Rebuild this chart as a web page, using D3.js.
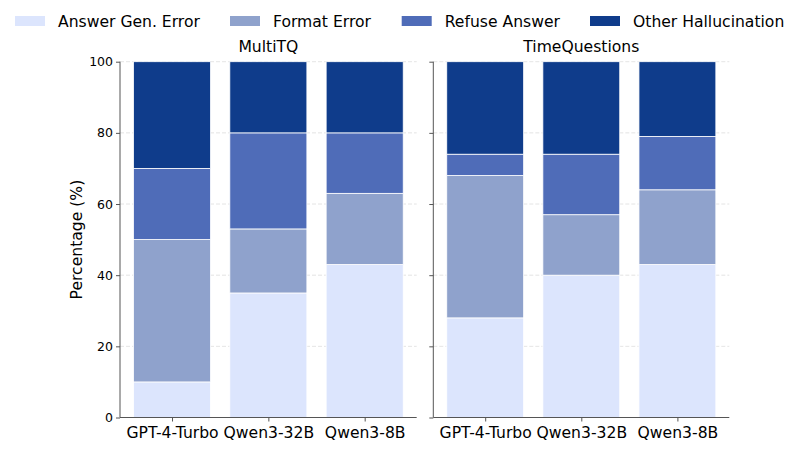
<!DOCTYPE html>
<html><head><meta charset="utf-8">
<script src="https://cdn.jsdelivr.net/npm/d3@7"></script>
<style>body{margin:0;background:#fff}svg{display:block;font-family:"DejaVu Sans",sans-serif}</style>
</head><body><svg id="c" width="798" height="450"></svg>
<script>
const models = ["GPT-4-Turbo", "Qwen3-32B", "Qwen3-8B"];
const panels = ["MultiTQ", "TimeQuestions"];
const seriesNames = ["Answer Gen. Error", "Format Error", "Refuse Answer", "Other Hallucination"];
const colors = ["#dce5fd", "#8fa2cc", "#4f6cb8", "#0f3c8b"];
// values per panel, per series, per model
const multiTQ = {
  "Answer Gen. Error": [10, 35, 43],
  "Format Error": [40, 18, 20],
  "Refuse Answer": [20, 27, 17],
  "Other Hallucination": [30, 20, 20]
};
const timeQuestions = {
  "Answer Gen. Error": [28, 40, 43],
  "Format Error": [40, 17, 21],
  "Refuse Answer": [6, 17, 15],
  "Other Hallucination": [26, 26, 21]
};
const yTicks = [0, 20, 40, 60, 80, 100];
const panelData = [multiTQ, timeQuestions];

const svg = d3.select("#c");
const y = d3.scaleLinear().domain([0, 100]).range([417.5, 61.7]);
const panelX = [[120, 416.7], [433.3, 729.3]];
const axisColor = "#555";
const FS = 15.6;

panelData.forEach((pd, pi) => {
  const [x0, x1] = panelX[pi];
  const x = d3.scaleLinear().domain([-0.54, 2.54]).range([x0, x1]);
  const g = svg.append("g");
  g.selectAll("line.grid").data(yTicks.filter(d => d > 0)).join("line")
    .attr("x1", x0).attr("x2", x1).attr("y1", d => y(d)).attr("y2", d => y(d))
    .attr("stroke", "#dddddd").attr("stroke-width", 0.8).attr("stroke-dasharray", "4,2");
  const rows = models.map((m, i) => {
    const r = {model: m, idx: i};
    seriesNames.forEach(s => r[s] = pd[s][i]);
    return r;
  });
  const stack = d3.stack().keys(seriesNames)(rows);
  stack.forEach((layer, si) => {
    g.selectAll(null).data(layer).join("rect")
      .attr("x", d => x(d.data.idx - 0.4))
      .attr("width", d => x(d.data.idx + 0.4) - x(d.data.idx - 0.4))
      .attr("y", d => y(d[1]))
      .attr("height", d => y(d[0]) - y(d[1]))
      .attr("fill", colors[si])
      .attr("stroke", "#ffffff").attr("stroke-width", 0.8);
  });
  const ya = d3.axisLeft(y).tickValues(yTicks).tickSize(4).tickPadding(3);
  if (pi === 1) ya.tickFormat("");
  const yg = g.append("g").attr("transform", `translate(${x0},0)`).call(ya);
  yg.select(".domain").attr("stroke", axisColor).attr("d", `M0,${y(0)}V${y(100)}`);
  yg.selectAll(".tick line").attr("stroke", axisColor);
  yg.selectAll(".tick text").attr("font-size", 12.5).attr("fill", "#000").attr("font-family", "DejaVu Sans");
  const xa = d3.axisBottom(x).tickValues([0, 1, 2]).tickFormat(i => models[i]).tickSize(4).tickPadding(5);
  const xg = g.append("g").attr("transform", `translate(0,${y(0)})`).call(xa);
  xg.select(".domain").attr("stroke", axisColor).attr("d", `M${x0},0H${x1}`);
  xg.selectAll(".tick line").attr("stroke", axisColor);
  xg.selectAll(".tick text").attr("font-size", FS).attr("fill", "#000").attr("font-family", "DejaVu Sans");
  g.append("text").attr("x", (x0 + x1) / 2).attr("y", 52).attr("text-anchor", "middle")
    .attr("font-size", FS).text(panels[pi]);
});

svg.append("text").attr("transform", `translate(82,${(y(0) + y(100)) / 2}) rotate(-90)`)
  .attr("text-anchor", "middle").attr("font-size", FS).text("Percentage (%)");

const legX = [15, 230, 401.7, 590];
const lg = svg.append("g");
seriesNames.forEach((s, i) => {
  lg.append("rect").attr("x", legX[i]).attr("y", 16).attr("width", 30).attr("height", 10).attr("fill", colors[i]);
  lg.append("text").attr("x", legX[i] + 43).attr("y", 26.5).attr("font-size", FS).text(s);
});
</script></body></html>
